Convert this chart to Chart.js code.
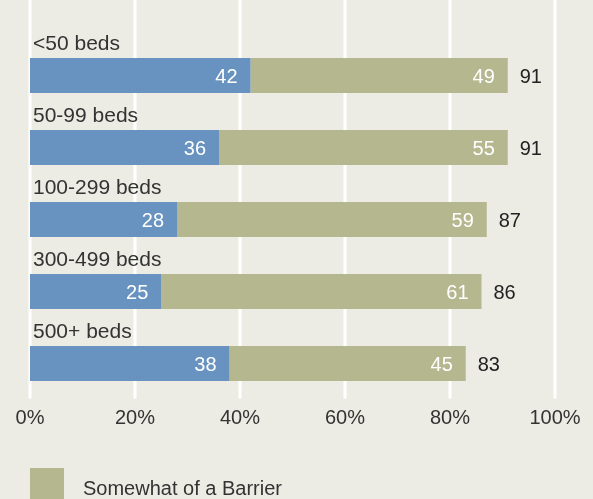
<!DOCTYPE html>
<html>
<head>
<meta charset="utf-8">
<script src="https://cdn.jsdelivr.net/npm/chart.js@4/dist/chart.umd.min.js"></script>
<style>
  html, body { margin: 0; padding: 0; background: #ecece4; }
  #wrap { width: 593px; height: 499px; }
</style>
</head>
<body>
<div id="wrap"><canvas id="chart"></canvas></div>
<script>
const categories = ['<50 beds', '50-99 beds', '100-299 beds', '300-499 beds', '500+ beds'];
const majorBarrier = [42, 36, 28, 25, 38];
const somewhatBarrier = [49, 55, 59, 61, 45];
const totals = [91, 91, 87, 86, 83];
const xTicks = [0, 20, 40, 60, 80, 100];

const BLUE = '#6892bf';
const OLIVE = '#b5b88e';
const FONT = '"Liberation Sans", Arial, sans-serif';

// white vertical grid lines, running up past the plot to the top edge
const gridPlugin = {
    id: 'grid',
    beforeDatasetsDraw(chart) {
        const ctx = chart.ctx;
        const x = chart.scales.x;
        ctx.save();
        ctx.strokeStyle = '#ffffff';
        ctx.lineWidth = 3;
        xTicks.forEach(t => {
            const px = Math.round(x.getPixelForValue(t));
            ctx.beginPath();
            ctx.moveTo(px, 0);
            ctx.lineTo(px, chart.chartArea.bottom - 1);
            ctx.stroke();
        });
        ctx.restore();
    }
};

// category names above bars, values inside, totals at the end, x tick labels, legend
const labelPlugin = {
    id: 'labels',
    afterDatasetsDraw(chart) {
        const ctx = chart.ctx;
        const x = chart.scales.x;
        const y = chart.scales.y;
        ctx.save();
        ctx.textBaseline = 'alphabetic';

        categories.forEach((cat, i) => {
            const bar = chart.getDatasetMeta(0).data[i];
            const cy = y.getPixelForValue(i);
            const top = cy - bar.height / 2;
            const end1 = x.getPixelForValue(majorBarrier[i]);
            const end2 = x.getPixelForValue(majorBarrier[i] + somewhatBarrier[i]);

            ctx.font = '21px ' + FONT;
            ctx.fillStyle = '#333333';
            ctx.textAlign = 'left';
            ctx.fillText(cat, x.getPixelForValue(0) + 3, top - 8);

            ctx.font = '20px ' + FONT;
            ctx.fillStyle = '#ffffff';
            ctx.textAlign = 'right';
            ctx.fillText(majorBarrier[i], end1 - 13, cy + 7.5);
            ctx.fillText(somewhatBarrier[i], end2 - 13, cy + 7.5);

            ctx.fillStyle = '#222222';
            ctx.textAlign = 'left';
            ctx.fillText(totals[i], end2 + 12, cy + 7.5);
        });

        ctx.font = '20px ' + FONT;
        ctx.fillStyle = '#333333';
        ctx.textAlign = 'center';
        xTicks.forEach(t => {
            ctx.fillText(t + '%', x.getPixelForValue(t), 424);
        });

        ctx.fillStyle = OLIVE;
        ctx.fillRect(30, 468, 34, 34);
        ctx.fillStyle = '#333333';
        ctx.textAlign = 'left';
        ctx.fillText('Somewhat of a Barrier', 83, 495);
        ctx.restore();
    }
};

new Chart(document.getElementById('chart'), {
    type: 'bar',
    data: {
        labels: categories,
        datasets: [
            { label: 'Major Barrier', data: majorBarrier, backgroundColor: BLUE },
            { label: 'Somewhat of a Barrier', data: somewhatBarrier, backgroundColor: OLIVE }
        ]
    },
    options: {
        indexAxis: 'y',
        responsive: true,
        maintainAspectRatio: false,
        animation: false,
        layout: { padding: { left: 30, right: 38, top: 39.5, bottom: 99.5 } },
        datasets: { bar: { categoryPercentage: 1, barPercentage: 0.486, borderWidth: 0 } },
        scales: {
            x: { stacked: true, min: 0, max: 100, display: false },
            y: { stacked: true, display: false }
        },
        plugins: {
            legend: { display: false },
            tooltip: { enabled: false }
        }
    },
    plugins: [gridPlugin, labelPlugin]
});
</script>
</body>
</html>
